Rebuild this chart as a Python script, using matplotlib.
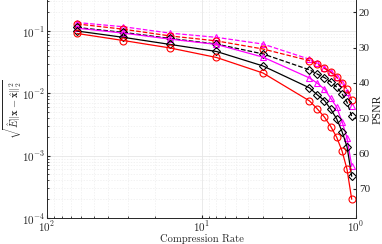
import numpy as np
import matplotlib
matplotlib.use("Agg")
import matplotlib.pyplot as plt
from matplotlib.ticker import LogLocator, NullFormatter, FixedLocator

plt.rcParams['mathtext.fontset'] = 'cm'
plt.rcParams['font.family'] = ['Liberation Serif', 'DejaVu Serif']

# Compression rates
rates = [64, 32, 16, 8, 4, 2, 16/9, 16/10, 16/11, 16/12, 16/13, 16/14, 16/15]

# PSNR (dB) per series
red_dashed     = [23.3, 24.8, 26.7, 28.1, 30.4, 33.7, 34.7, 35.9, 37.0, 38.4, 40.1, 41.8, 44.8]
magenta_dashed = [22.9, 24.1, 25.9, 27.1, 29.0, 33.3, 34.4, 35.7, 36.8, 38.2, 39.9, 42.5, 46.5]
black_dashed   = [24.3, 25.7, 27.4, 29.0, 31.8, 36.3, 37.5, 38.5, 39.7, 41.2, 43.1, 45.5, 49.4]
magenta_solid  = [24.5, 25.9, 27.6, 29.1, 32.7, 38.6, 40.1, 41.8, 44.4, 46.9, 51.0, 55.6, 63.5]
black_solid    = [25.3, 27.1, 29.1, 31.1, 35.2, 41.4, 43.4, 45.0, 47.5, 50.2, 53.8, 58.1, 66.4]
red_solid      = [26.0, 28.0, 30.1, 32.8, 37.2, 45.1, 47.4, 49.7, 52.4, 55.4, 59.3, 64.5, 72.9]

psnr_ticks = [20, 30, 40, 50, 60, 70]

fig = plt.figure(figsize=(3.82, 2.44), dpi=100)
ax = fig.add_axes([47/382, 26/244, 309/382, 218/244])
ax.set_xscale('log')
ax.set_yscale('log')
ax.set_xlim(100, 1)
ax.set_ylim(1e-4, 10**(-0.503))
ax.grid(True, which='major', color='#e6e6e6', linewidth=0.6, linestyle='-')
ax.grid(True, which='minor', color='#ededed', linewidth=0.5, linestyle=(0, (2, 2)))
ax.set_axisbelow(True)
ax.tick_params(which='both', direction='in', labelsize=8, colors='#262626', length=2.5,
               top=False, right=False, pad=1.5)
ax.tick_params(axis='x', which='both', pad=1)
ax.tick_params(which='minor', length=1.5)
ax.xaxis.set_major_locator(FixedLocator([100, 10, 1]))
ax.set_xticklabels([r'$10^2$', r'$10^1$', r'$10^0$'])
ax.yaxis.set_major_locator(FixedLocator([1e-4, 1e-3, 1e-2, 1e-1]))
ax.set_yticklabels([r'$10^{-4}$', r'$10^{-3}$', r'$10^{-2}$', r'$10^{-1}$'])
ax.yaxis.set_minor_locator(LogLocator(base=10, subs=np.arange(2, 10)))
ax.yaxis.set_minor_formatter(NullFormatter())
ax.xaxis.set_minor_locator(LogLocator(base=10, subs=np.arange(2, 10)))
ax.xaxis.set_minor_formatter(NullFormatter())
for s in ax.spines.values():
    s.set_color('#262626')
    s.set_linewidth(0.6)
ax.spines['top'].set_visible(False)
ax.set_xlabel('Compression Rate', fontsize=7.6, color='#262626', fontfamily='cmr10')
ax.xaxis.set_label_coords(0.5, -0.073)
ax.set_ylabel(r'$\sqrt{\hat{E}\|\mathbf{x}-\hat{\mathbf{x}}\|_2^2}$', fontsize=7.5, color='#262626')
ax.yaxis.set_label_coords(-0.075, 0.5)

ax2 = ax.twinx()
ax2.set_ylim(78.27, 16.52)
ax2.yaxis.set_major_locator(FixedLocator(psnr_ticks))
ax2.tick_params(direction='in', labelsize=8, colors='#262626', length=2.5, pad=2)
ax2.spines['top'].set_visible(False)
for s in ax2.spines.values():
    s.set_color('#262626')
    s.set_linewidth(0.6)
ax2.set_ylabel('PSNR', fontsize=8.5, color='#262626')
ax2.yaxis.set_label_coords(1.05, 0.5)

ms = 5
mew = 0.8
lw = 0.9
series = [
    (magenta_dashed, '#ff00ff', '--', '^'),
    (red_dashed, '#ff0000', '--', 'o'),
    (black_dashed, 'black', '--', 'D'),
    (magenta_solid, '#ff00ff', '-', '^'),
    (black_solid, 'black', '-', 'D'),
    (red_solid, '#ff0000', '-', 'o'),
]
for vals, c, ls, m in series:
    msz = ms - 0.8 if m == 'D' else ms
    ax2.plot(rates, vals, color=c, linestyle=ls, marker=m, markersize=msz,
             markerfacecolor='none', markeredgewidth=mew, linewidth=lw, clip_on=False)

fig.savefig('out.png', dpi=100)
